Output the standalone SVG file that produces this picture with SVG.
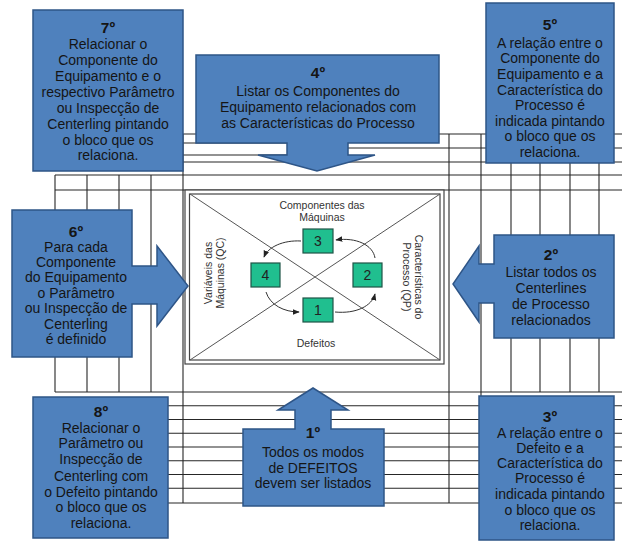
<svg xmlns="http://www.w3.org/2000/svg" width="622" height="542" viewBox="0 0 622 542">
  <style>
    .grid line { stroke: #262626; stroke-width: 1.1; }
    .callout { fill: #4F81BD; stroke: #2E5587; stroke-width: 1.5; }
    .t { font-family: "Liberation Sans", Arial, sans-serif; font-size: 14px; fill: #151515; text-anchor: middle; }
    .h { font-weight: bold; font-size: 15.5px; }
    .frame { fill: #fff; stroke: #444; stroke-width: 1.2; }
    .diag { stroke: #555; stroke-width: 1; }
    .lbl { font-family: "Liberation Sans", Arial, sans-serif; font-size: 10.5px; fill: #333; text-anchor: middle; }
    .step { fill: #20BF8F; stroke: #1F5446; stroke-width: 1.2; }
    .num { font-family: "Liberation Sans", Arial, sans-serif; font-size: 14px; fill: #222; text-anchor: middle; }
    .cyc { fill: none; stroke: #333; stroke-width: 1; marker-end: url(#tip); }
  </style>
  <defs>
    <marker id="tip" viewBox="0 0 10 10" refX="9" refY="5" markerWidth="7" markerHeight="7" orient="auto" markerUnits="userSpaceOnUse">
      <path d="M0,1 L10,5 L0,9 Z" fill="#222"/>
    </marker>
  </defs>
  <rect width="622" height="542" fill="#fff"/>

  <!-- matrix grid behind the callouts -->
  <g id="connectors" class="grid">
    <!-- roof rows -->
    <line x1="183" y1="134" x2="622" y2="134"/>
    <line x1="183" y1="143" x2="300" y2="143"/>
    <line x1="183" y1="155" x2="300" y2="155"/>
    <line x1="340" y1="148" x2="622" y2="148"/>
    <line x1="183" y1="162" x2="622" y2="162"/>
    <line x1="55" y1="175" x2="622" y2="175"/>
    <line x1="55" y1="190" x2="622" y2="190"/>
    <!-- floor rows -->
    <line x1="55" y1="392" x2="622" y2="392"/>
    <line x1="55" y1="405.75" x2="622" y2="405.75"/>
    <line x1="55" y1="419.5" x2="622" y2="419.5"/>
    <line x1="55" y1="433.25" x2="622" y2="433.25"/>
    <line x1="55" y1="447" x2="622" y2="447"/>
    <line x1="55" y1="460.75" x2="622" y2="460.75"/>
    <line x1="55" y1="474.5" x2="622" y2="474.5"/>
    <line x1="55" y1="488.25" x2="622" y2="488.25"/>
    <line x1="55" y1="503" x2="622" y2="503"/>
    <!-- left wall columns -->
    <line x1="55" y1="175" x2="55" y2="392"/>
    <line x1="87" y1="175" x2="87" y2="392"/>
    <line x1="119" y1="175" x2="119" y2="392"/>
    <line x1="151" y1="175" x2="151" y2="392"/>
    <line x1="183" y1="134" x2="183" y2="503"/>
    <!-- right wall columns -->
    <line x1="449" y1="134" x2="449" y2="503"/>
    <line x1="481" y1="134" x2="481" y2="503"/>
    <line x1="511" y1="134" x2="511" y2="392"/>
    <line x1="540" y1="134" x2="540" y2="392"/>
    <line x1="570" y1="134" x2="570" y2="392"/>
    <line x1="599" y1="134" x2="599" y2="392"/>
  </g>

  <!-- central relationship panel -->
  <g id="panel">
    <rect class="frame" x="185" y="190" width="259" height="174"/>
    <rect class="frame" x="189.5" y="194" width="250.5" height="166"/>
    <line class="diag" x1="190" y1="194" x2="440" y2="360"/>
    <line class="diag" x1="440" y1="194" x2="190" y2="360"/>
    <text class="lbl" x="322" y="209">Componentes das</text>
    <text class="lbl" x="322" y="221">Máquinas</text>
    <text class="lbl" x="316" y="347">Defeitos</text>
    <text class="lbl" transform="translate(212,273) rotate(-90)"><tspan x="0" y="0">Variáveis das</tspan><tspan x="0" y="12">Máquinas (QC)</tspan></text>
    <text class="lbl" transform="translate(415,277) rotate(90)"><tspan x="0" y="0">Características do</tspan><tspan x="0" y="12">Processo (QP)</tspan></text>
    <path class="cyc" d="M335,312 C356,314 372,306 375,294"/>
    <path class="cyc" d="M375,258 C373,245 356,237 336,240"/>
    <path class="cyc" d="M301,241 C283,240 268,247 264,257"/>
    <path class="cyc" d="M266,292 C270,305 284,312 299,312"/>
  </g>
  <g id="step1"><rect class="step" x="303" y="298" width="30" height="24"/><text class="num" x="318" y="315">1</text></g>
  <g id="step2"><rect class="step" x="353" y="263" width="29" height="24"/><text class="num" x="367.5" y="280">2</text></g>
  <g id="step3"><rect class="step" x="303" y="229" width="30" height="24"/><text class="num" x="318" y="246">3</text></g>
  <g id="step4"><rect class="step" x="251" y="263" width="29" height="24"/><text class="num" x="265.5" y="280">4</text></g>

  <!-- numbered callouts -->
  <g id="callout7">
    <rect class="callout" x="33" y="10" width="150" height="161"/>
    <text class="t h" x="108" y="33">7º</text>
    <text class="t" x="108" y="49">Relacionar o</text>
    <text class="t" x="108" y="65">Componente do</text>
    <text class="t" x="108" y="81">Equipamento e o</text>
    <text class="t" x="108" y="97">respectivo Parâmetro</text>
    <text class="t" x="108" y="113">ou Inspecção de</text>
    <text class="t" x="108" y="129">Centerling pintando</text>
    <text class="t" x="108" y="145">o bloco que os</text>
    <text class="t" x="108" y="160">relaciona.</text>
  </g>

  <g id="callout4">
    <path class="callout" d="M196,55 H439 V143 H348 V155 H375 L317,171 L258,155 H287 V143 H196 Z"/>
    <text class="t h" x="318" y="78">4º</text>
    <text class="t" x="318" y="96">Listar os Componentes do</text>
    <text class="t" x="318" y="112">Equipamento relacionados com</text>
    <text class="t" x="318" y="128">as Características do Processo</text>
  </g>

  <g id="callout5">
    <rect class="callout" x="486" y="3" width="128" height="160"/>
    <text class="t h" x="550" y="30">5º</text>
    <text class="t" x="550" y="48">A relação entre o</text>
    <text class="t" x="550" y="63">Componente do</text>
    <text class="t" x="550" y="79">Equipamento e a</text>
    <text class="t" x="550" y="95">Característica do</text>
    <text class="t" x="550" y="110">Processo é</text>
    <text class="t" x="550" y="126">indicada pintando</text>
    <text class="t" x="550" y="141">o bloco que os</text>
    <text class="t" x="550" y="157">relaciona.</text>
  </g>

  <g id="callout6">
    <path class="callout" d="M12,210 H132 V266 H157 V246 L188,286 L157,326 V304 H132 V357 H12 Z"/>
    <text class="t h" x="76" y="237">6º</text>
    <text class="t" x="76" y="252">Para cada</text>
    <text class="t" x="76" y="267">Componente</text>
    <text class="t" x="76" y="282">do Equipamento</text>
    <text class="t" x="76" y="298">o Parâmetro</text>
    <text class="t" x="76" y="313">ou Inspecção de</text>
    <text class="t" x="76" y="329">Centerling</text>
    <text class="t" x="76" y="344">é definido</text>
  </g>

  <g id="callout2">
    <path class="callout" d="M614,235 V338 H494 V303 H479 V322 L453,284 L479,246 V264 H494 V235 Z"/>
    <text class="t h" x="551" y="260">2º</text>
    <text class="t" x="551" y="277">Listar todos os</text>
    <text class="t" x="551" y="293">Centerlines</text>
    <text class="t" x="551" y="309">de Processo</text>
    <text class="t" x="551" y="325">relacionados</text>
  </g>

  <g id="callout8">
    <rect class="callout" x="33" y="397" width="135" height="141"/>
    <text class="t h" x="101" y="417">8º</text>
    <text class="t" x="101" y="433">Relacionar o</text>
    <text class="t" x="101" y="448">Parâmetro ou</text>
    <text class="t" x="101" y="464">Inspecção de</text>
    <text class="t" x="101" y="481">Centerling com</text>
    <text class="t" x="101" y="497">o Defeito pintando</text>
    <text class="t" x="101" y="512">o bloco que os</text>
    <text class="t" x="101" y="528">relaciona.</text>
  </g>

  <g id="callout1">
    <path class="callout" d="M243,429 H295 V410 H278 L313,388 L348,410 H331 V429 H384 V506 H243 Z"/>
    <text class="t h" x="313" y="438">1º</text>
    <text class="t" x="313" y="457">Todos os modos</text>
    <text class="t" x="313" y="473">de DEFEITOS</text>
    <text class="t" x="313" y="488">devem ser listados</text>
  </g>

  <g id="callout3">
    <rect class="callout" x="479" y="396" width="135" height="144"/>
    <text class="t h" x="550" y="422">3º</text>
    <text class="t" x="550" y="438">A relação entre o</text>
    <text class="t" x="550" y="453">Defeito e a</text>
    <text class="t" x="550" y="468">Característica do</text>
    <text class="t" x="550" y="483">Processo é</text>
    <text class="t" x="550" y="499">indicada pintando</text>
    <text class="t" x="550" y="515">o bloco que os</text>
    <text class="t" x="550" y="530">relaciona.</text>
  </g>
</svg>
